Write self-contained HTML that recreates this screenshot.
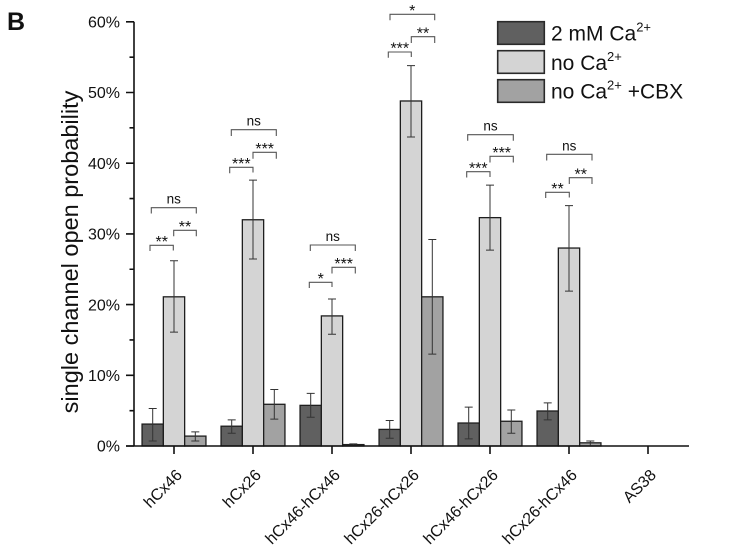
<!DOCTYPE html>
<html><head><meta charset="utf-8"><style>
html,body{margin:0;padding:0;background:#fff;}
svg{display:block;}
text{font-family:"Liberation Sans",Arial,sans-serif;fill:#111;}
</style></head><body>
<svg width="755" height="553" viewBox="0 0 755 553" xmlns="http://www.w3.org/2000/svg">
<rect width="755" height="553" fill="#fff"/>
<text x="7" y="30" font-size="25" font-weight="bold" fill="#000">B</text>

<!-- y label -->
<text transform="translate(78,252) rotate(-90)" text-anchor="middle" font-size="23.5">single channel open probability</text>

<!-- y tick labels -->
<g font-size="16" text-anchor="end">
<text x="120" y="451.7">0%</text>
<text x="120" y="381">10%</text>
<text x="120" y="310.3">20%</text>
<text x="120" y="239.6">30%</text>
<text x="120" y="168.9">40%</text>
<text x="120" y="98.2">50%</text>
<text x="120" y="27.5">60%</text>
</g>

<!-- bars -->
<g stroke="#1e1e1e" stroke-width="1.3">
<!-- G1 -->
<rect x="142.05" y="424.08" width="21.3" height="21.92" fill="#606060"/>
<rect x="163.35" y="296.82" width="21.3" height="149.18" fill="#d4d4d4"/>
<rect x="184.65" y="436.10" width="21.3" height="9.9" fill="#a2a2a2"/>
<!-- G2 -->
<rect x="221.05" y="426.20" width="21.3" height="19.8" fill="#606060"/>
<rect x="242.35" y="219.76" width="21.3" height="226.24" fill="#d4d4d4"/>
<rect x="263.65" y="404.29" width="21.3" height="41.71" fill="#a2a2a2"/>
<!-- G3 -->
<rect x="300.05" y="405.35" width="21.3" height="40.65" fill="#606060"/>
<rect x="321.35" y="315.91" width="21.3" height="130.09" fill="#d4d4d4"/>
<rect x="342.65" y="444.59" width="21.3" height="1.41" fill="#a2a2a2"/>
<!-- G4 -->
<rect x="379.05" y="429.39" width="21.3" height="16.61" fill="#606060"/>
<rect x="400.35" y="100.98" width="21.3" height="345.02" fill="#d4d4d4"/>
<rect x="421.65" y="296.82" width="21.3" height="149.18" fill="#a2a2a2"/>
<!-- G5 -->
<rect x="458.05" y="423.02" width="21.3" height="22.98" fill="#606060"/>
<rect x="479.35" y="217.64" width="21.3" height="228.36" fill="#d4d4d4"/>
<rect x="500.65" y="421.26" width="21.3" height="24.74" fill="#a2a2a2"/>
<!-- G6 -->
<rect x="537.05" y="411.0" width="21.3" height="35.0" fill="#606060"/>
<rect x="558.35" y="248.04" width="21.3" height="197.96" fill="#d4d4d4"/>
<rect x="579.65" y="442.82" width="21.3" height="3.18" fill="#a2a2a2"/>
</g>

<!-- error bars -->
<g stroke="#333" stroke-width="1" fill="none">
<path d="M152.7 408.53V441.05M148.7 408.53h8M148.7 441.05h8"/>
<path d="M174 260.77V332.17M170 260.77h8M170 332.17h8"/>
<path d="M195.3 431.86V441.05M191.3 431.86h8M191.3 441.05h8"/>

<path d="M231.7 419.84V433.27M227.7 419.84h8M227.7 433.27h8"/>
<path d="M253 180.17V259.0M249 180.17h8M249 259.0h8"/>
<path d="M274.3 389.44V419.13M270.3 389.44h8M270.3 419.13h8"/>

<path d="M310.7 393.33V417.30M306.7 393.33h8M306.7 417.30h8"/>
<path d="M332 298.94V334.29M328 298.94h8M328 334.29h8"/>
<path d="M353.3 443.88V445.29M349.3 443.88h8"/>

<path d="M389.7 420.55V438.22M385.7 420.55h8M385.7 438.22h8"/>
<path d="M411 65.63V137.04M407 65.63h8M407 137.04h8"/>
<path d="M432.3 239.56V354.09M428.3 239.56h8M428.3 354.09h8"/>

<path d="M468.7 407.12V438.93M464.7 407.12h8M464.7 438.93h8"/>
<path d="M490 185.12V250.16M486 185.12h8M486 250.16h8"/>
<path d="M511.3 409.94V433.27M507.3 409.94h8M507.3 433.27h8"/>

<path d="M547.7 402.87V419.84M543.7 402.87h8M543.7 419.84h8"/>
<path d="M569 205.62V291.17M565 205.62h8M565 291.17h8"/>
<path d="M590.3 441.05V445.29M586.3 441.05h8"/>
</g>

<!-- axes -->
<g stroke="#111" stroke-width="1.6" fill="none">
<path d="M134 21.8V446"/>
<path d="M126 446H689"/>
<path d="M126 446.0H134M126 375.3H134M126 304.6H134M126 233.9H134M126 163.2H134M126 92.5H134M126 21.8H134"/>
<path d="M129.5 410.65H134M129.5 339.95H134M129.5 269.25H134M129.5 198.55H134M129.5 127.85H134M129.5 57.15H134"/>
<path d="M174 446V454M253 446V454M332 446V454M411 446V454M490 446V454M569 446V454M648 446V454"/>
</g>

<!-- x labels -->
<g font-size="16" text-anchor="end">
<text transform="translate(183,476) rotate(-45)">hCx46</text>
<text transform="translate(262,476) rotate(-45)">hCx26</text>
<text transform="translate(341,476) rotate(-45)">hCx46-hCx46</text>
<text transform="translate(420,476) rotate(-45)">hCx26-hCx26</text>
<text transform="translate(499,476) rotate(-45)">hCx46-hCx26</text>
<text transform="translate(578,476) rotate(-45)">hCx26-hCx46</text>
<text transform="translate(657,476) rotate(-45)">AS38</text>
</g>

<!-- significance brackets -->
<g stroke="#555" stroke-width="1.1" fill="none">
<path d="M150 251V245.3H173.3V250.5"/>
<path d="M173.7 236.3V230.3H196.3V236.3"/>
<path d="M151.3 213.5V207.7H196.3V213.5"/>

<path d="M229.7 173.3V167.3H253V172.5"/>
<path d="M253 158.7V152.3H276.3V158.7"/>
<path d="M231.3 136V129.7H276.3V136"/>

<path d="M309.3 288V282.3H332V287"/>
<path d="M332 273.5V267.3H355.3V273.5"/>
<path d="M310.3 251V245H355.3V251"/>

<path d="M388.3 57.8V52H411.3V57"/>
<path d="M411.3 43V36.7H434.7V43"/>
<path d="M390 20.3V14.3H434.7V20.3"/>

<path d="M466.7 177.5V171.7H490V177"/>
<path d="M490 162.5V156.3H513.3V162.5"/>
<path d="M467.7 140.7V134.7H513.3V140.7"/>

<path d="M545.7 198V192.3H569.3V197.5"/>
<path d="M569.3 184V177.7H592V184"/>
<path d="M546.7 160.5V154.3H592V160.5"/>
</g>

<g text-anchor="middle" fill="#222">
<text x="161.7" y="247" font-size="16">**</text>
<text x="185" y="232" font-size="16">**</text>
<text x="173.8" y="203.7" font-size="13.5">ns</text>

<text x="241.3" y="169" font-size="16">***</text>
<text x="264.7" y="154" font-size="16">***</text>
<text x="253.8" y="125.7" font-size="13.5">ns</text>

<text x="320.7" y="284" font-size="16">*</text>
<text x="343.7" y="269" font-size="16">***</text>
<text x="332.8" y="241" font-size="13.5">ns</text>

<text x="399.8" y="53.7" font-size="16">***</text>
<text x="423" y="38.4" font-size="16">**</text>
<text x="412.3" y="16" font-size="16">*</text>

<text x="478.3" y="173.4" font-size="16">***</text>
<text x="501.7" y="158" font-size="16">***</text>
<text x="490.5" y="130.7" font-size="13.5">ns</text>

<text x="557.5" y="194" font-size="16">**</text>
<text x="580.7" y="179.4" font-size="16">**</text>
<text x="569.3" y="150.3" font-size="13.5">ns</text>
</g>

<!-- legend -->
<g stroke="#2a2a2a" stroke-width="1.6">
<rect x="497.7" y="21.7" width="46.6" height="22.6" fill="#606060"/>
<rect x="497.7" y="50.7" width="46.6" height="22.6" fill="#d4d4d4"/>
<rect x="497.7" y="79.7" width="46.6" height="22.6" fill="#a2a2a2"/>
</g>
<g font-size="21">
<text x="551" y="40.7">2 mM Ca<tspan font-size="13" dy="-9">2+</tspan></text>
<text x="551" y="70">no Ca<tspan font-size="13" dy="-9">2+</tspan></text>
<text x="551" y="98.5">no Ca<tspan font-size="13" dy="-9">2+</tspan><tspan dy="9"> +CBX</tspan></text>
</g>
</svg>
</body></html>
